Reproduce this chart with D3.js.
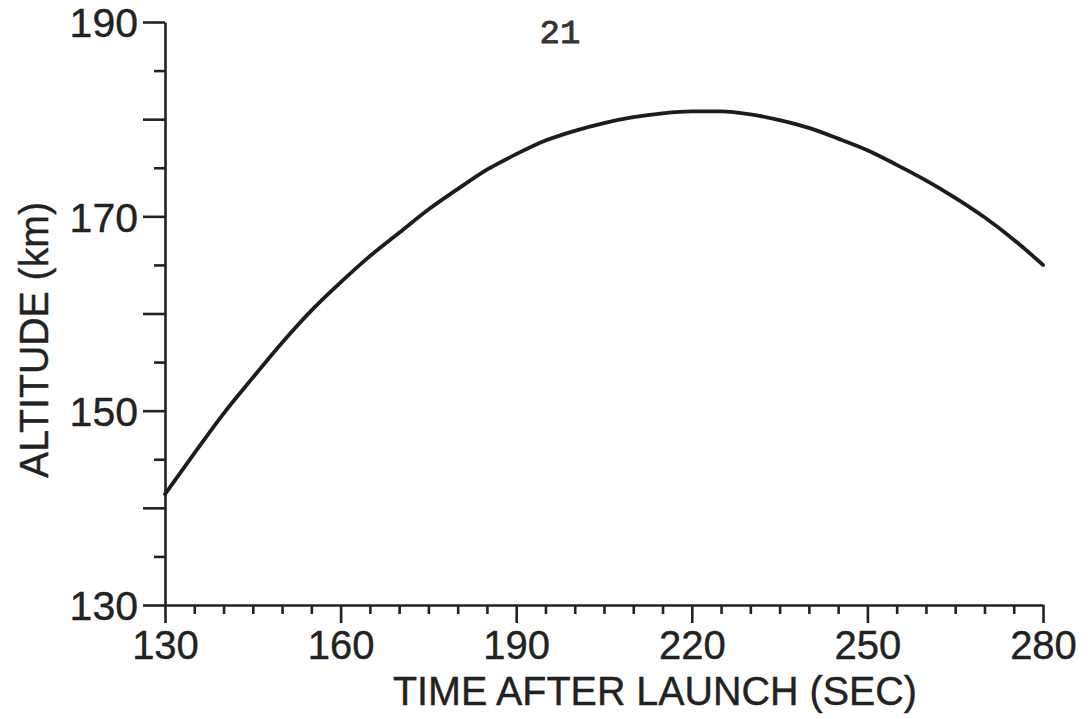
<!DOCTYPE html>
<html>
<head>
<meta charset="utf-8">
<script src="https://cdn.jsdelivr.net/npm/d3@7"></script>
<style>
  html, body { margin: 0; padding: 0; background: #fff; }
  svg { display: block; }
  .lbl { font-family: "Liberation Sans", Arial, sans-serif; fill: #222; stroke: #222; stroke-width: 0.4px; stroke-linejoin: round; }
</style>
</head>
<body>
<svg id="chart" width="1092" height="719"></svg>
<script>
// Time after launch (s) and altitude (km) of the trajectory
const times = [130,135,140,145,150,155,160,165,170,175,180,185,190,195,200,205,
               210,215,220,225,230,235,240,245,250,255,260,265,270,275,280];
const altitudes = [141.4,145.6,149.7,153.4,157.0,160.3,163.2,165.9,168.3,170.7,172.8,174.8,176.4,177.8,178.8,179.6,
                   180.2,180.6,180.8,180.8,180.5,179.9,179.1,178.0,176.8,175.3,173.7,171.9,169.9,167.6,165.0];

const xTicks = d3.range(130, 281, 5);
const xLabels = [130, 160, 190, 220, 250, 280];
const yTicks = d3.range(130, 191, 5);
const yLabels = [130, 150, 170, 190];

const xTitle = "TIME AFTER LAUNCH (SEC)";
const yTitle = "ALTITUDE (km)";
const pageNumber = "21";

const svg = d3.select("#chart");
const ink = "#222";

const x = d3.scaleLinear().domain([130, 280]).range([165, 1043]);
const y = d3.scaleLinear().domain([130, 190]).range([605, 22]);

// Vertical axis: long ticks every 10 km, short ticks every 5 km
const yAxis = d3.axisLeft(y)
  .tickValues(yTicks)
  .tickSizeOuter(0)
  .tickFormat(d => yLabels.includes(d) ? d : "");
const gy = svg.append("g").attr("transform", `translate(${x(130)},0)`).call(yAxis);
gy.select(".domain").attr("stroke", ink).attr("stroke-width", 2.6);
gy.selectAll(".tick line")
  .attr("stroke", ink).attr("stroke-width", 2.6)
  .attr("x2", d => d % 10 === 0 ? -22 : -11);
gy.selectAll(".tick text")
  .attr("class", "lbl")
  .attr("x", -27).attr("dy", "0.36em")
  .attr("font-size", 41)
  .attr("text-anchor", "end");

// Horizontal axis: long ticks every 30 s, short ticks every 5 s
const xAxis = d3.axisBottom(x)
  .tickValues(xTicks)
  .tickSizeOuter(0)
  .tickFormat(d => xLabels.includes(d) ? d : "");
const gx = svg.append("g").attr("transform", `translate(0,${y(130)})`).call(xAxis);
gx.select(".domain").attr("stroke", ink).attr("stroke-width", 2.6);
gx.selectAll(".tick line")
  .attr("stroke", ink).attr("stroke-width", 2.6)
  .attr("y2", d => xLabels.includes(d) ? 18 : 9);
gx.selectAll(".tick text")
  .attr("class", "lbl")
  .attr("y", 54).attr("dy", null)
  .attr("font-size", 40)
  .attr("text-anchor", "middle");

// Trajectory curve
const line = d3.line()
  .x((d, i) => x(times[i]))
  .y(d => y(d))
  .curve(d3.curveMonotoneX);
svg.append("path")
  .datum(altitudes)
  .attr("d", line)
  .attr("fill", "none")
  .attr("stroke", "#1c1c1c")
  .attr("stroke-width", 3.8)
  .attr("stroke-linecap", "round");

// Axis titles
svg.append("text")
  .attr("class", "lbl")
  .attr("x", 393).attr("y", 705)
  .attr("font-size", 40)
  .attr("textLength", 524)
  .attr("lengthAdjust", "spacingAndGlyphs")
  .text(xTitle);

svg.append("text")
  .attr("class", "lbl")
  .attr("transform", "translate(48,478) rotate(-90)")
  .attr("font-size", 41)
  .attr("textLength", 276)
  .attr("lengthAdjust", "spacingAndGlyphs")
  .text(yTitle);

// Page number
svg.append("text")
  .attr("x", 560).attr("y", 43)
  .attr("text-anchor", "middle")
  .attr("font-family", "'Liberation Mono', 'DejaVu Sans Mono', monospace")
  .attr("font-size", 34)
  .attr("fill", "#333")
  .attr("stroke", "#333")
  .attr("stroke-width", 0.8)
  .text(pageNumber);
</script>
</body>
</html>
